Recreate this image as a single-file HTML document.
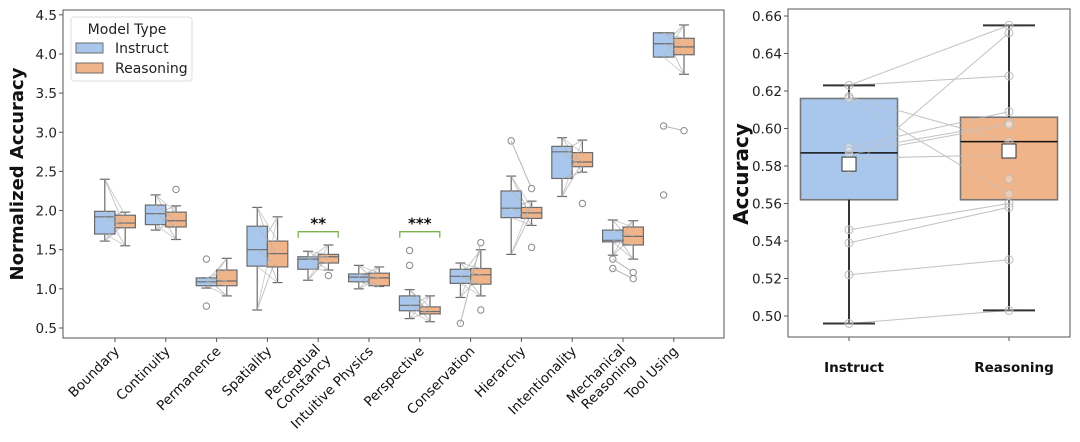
<!DOCTYPE html>
<html><head><meta charset="utf-8"><style>
body{margin:0;background:#fff;}
svg{display:block;font-family:"DejaVu Sans","Liberation Sans",sans-serif;}
</style></head><body>
<svg id="chart" width="1080" height="442" viewBox="0 0 1080 442" xmlns="http://www.w3.org/2000/svg">
  <g id="left"></g>
  <g id="right"></g>
</svg>
<script>
const categories=["Boundary","Continuity","Permanence","Spatiality","Perceptual\nConstancy","Intuitive Physics","Perspective","Conservation","Hierarchy","Intentionality","Mechanical\nReasoning","Tool Using"];
// [whiskerLow, q1, median, q3, whiskerHigh]
const instructStats=[[1.61,1.70,1.92,1.99,2.40],[1.75,1.82,1.96,2.07,2.20],[1.01,1.04,1.09,1.14,1.14],[0.73,1.29,1.50,1.80,2.04],[1.11,1.25,1.38,1.41,1.48],[1.00,1.09,1.15,1.19,1.30],[0.62,0.72,0.79,0.91,0.99],[0.89,1.07,1.16,1.25,1.33],[1.44,1.91,2.03,2.25,2.44],[2.18,2.41,2.75,2.82,2.93],[1.43,1.60,1.62,1.75,1.88],[3.96,3.96,4.13,4.27,4.27]];
const reasoningStats=[[1.55,1.78,1.84,1.94,1.98],[1.63,1.79,1.87,1.98,2.06],[0.91,1.04,1.10,1.24,1.39],[1.08,1.28,1.45,1.61,1.92],[1.24,1.33,1.41,1.44,1.56],[1.03,1.04,1.14,1.20,1.28],[0.58,0.68,0.71,0.77,0.91],[0.91,1.06,1.18,1.26,1.50],[1.81,1.90,1.97,2.04,2.12],[2.49,2.56,2.62,2.74,2.90],[1.38,1.56,1.67,1.79,1.87],[3.74,3.99,4.09,4.20,4.37]];
const instructOutliers=[[],[],[1.38,0.78],[],[],[],[1.49,1.30],[0.56],[2.89],[],[1.38,1.26],[3.08,2.20]];
const reasoningOutliers=[[],[2.27],[],[],[1.17],[],[],[1.59,0.73],[2.28,1.53],[2.09],[1.21,1.13],[3.02]];
const sigBrackets=[[4,"**",1.73],[6,"***",1.73]];
const yTicks=[0.5,1.0,1.5,2.0,2.5,3.0,3.5,4.0,4.5];

const rightCats=["Instruct","Reasoning"];
const rInstruct=[0.496,0.562,0.587,0.616,0.623];
const rReasoning=[0.503,0.562,0.593,0.606,0.655];
const rMeans=[0.581,0.588];
const rInstructPts=[0.623,0.617,0.616,0.590,0.588,0.586,0.578,0.546,0.539,0.522,0.496];
const rReasoningPts=[0.655,0.651,0.628,0.609,0.603,0.602,0.593,0.586,0.573,0.565,0.560,0.558,0.530,0.503];
const rPairsI=[0.623,0.623,0.617,0.616,0.590,0.588,0.586,0.584,0.578,0.546,0.539,0.522,0.496];
const rPairsR=[0.655,0.628,0.593,0.565,0.609,0.603,0.602,0.586,0.651,0.560,0.558,0.530,0.503];
const rTicks=[0.50,0.52,0.54,0.56,0.58,0.60,0.62,0.64,0.66];

const NS="http://www.w3.org/2000/svg";
function mk(parent,tag,attrs,text){const e=document.createElementNS(NS,tag);for(const k in attrs)e.setAttribute(k,attrs[k]);if(text!==undefined)e.textContent=text;parent.appendChild(e);return e;}
const BLUE="#a9c7ec",ORANGE="#f0b48a",EDGE="#6b6b6b",LINE="#b5b5b5";

// ---- left panel
const L=document.getElementById('left');
const X0=63,X1=724,Y0=10,Y1=338;
const ly=v=>328-(v-0.5)*78.3;
const lx=i=>115+i*50.8;
let e=mk(L,'rect',{x:X0,y:Y0,width:X1-X0,height:Y1-Y0,fill:'none',stroke:'#555','stroke-width':1});

yTicks.forEach(t=>{const y=ly(t);
  e=mk(L,'line',{x1:X0-4,x2:X0,y1:y,y2:y,stroke:'#555'});
  e=mk(L,'text',{x:X0-6,y:y+5,'text-anchor':'end','font-size':13.5,fill:'#222'},t.toFixed(1));});
e=mk(L,'text',{x:0,y:0,transform:'translate(23,174) rotate(-90)','text-anchor':'middle','font-size':18,'font-weight':'bold',fill:'#111'},'Normalized Accuracy');


function drawBox(g,cx,w,s,fill,capW,lw,edge){
  const y=v=>g.ys(v);
  mk(g.el,'line',{x1:cx,x2:cx,y1:y(s[0]),y2:y(s[1]),stroke:edge,'stroke-width':lw});
  mk(g.el,'line',{x1:cx,x2:cx,y1:y(s[3]),y2:y(s[4]),stroke:edge,'stroke-width':lw});
  mk(g.el,'line',{x1:cx-capW/2,x2:cx+capW/2,y1:y(s[0]),y2:y(s[0]),stroke:edge,'stroke-width':lw});
  mk(g.el,'line',{x1:cx-capW/2,x2:cx+capW/2,y1:y(s[4]),y2:y(s[4]),stroke:edge,'stroke-width':lw});
  const r=mk(g.el,'rect',{x:cx-w/2,y:y(s[3]),width:w,height:y(s[1])-y(s[3]),fill:fill,stroke:edge,'stroke-width':lw});
  mk(g.el,'line',{x1:cx-w/2,x2:cx+w/2,y1:y(s[2]),y2:y(s[2]),stroke:g.med||edge,'stroke-width':lw});
  return r;
}
categories.forEach((c,i)=>{
  const g=mk(L,'g',{});
  const xi=lx(i)-10.2,xr=lx(i)+10.2;
  for(let k=0;k<5;k++){mk(g,'line',{x1:xi,x2:xr,y1:ly(instructStats[i][k]),y2:ly(reasoningStats[i][(k+2)%5]),stroke:LINE,'stroke-width':1,opacity:0.8});}
  const b1=drawBox({el:g,ys:ly},xi,20.4,instructStats[i],BLUE,10,1.2,EDGE);
  
  const b2=drawBox({el:g,ys:ly},xr,20.4,reasoningStats[i],ORANGE,10,1.2,EDGE);
  
  for(let k=0;k<5;k++){mk(g,'line',{x1:xi,x2:xr,y1:ly(instructStats[i][(k+1)%5]),y2:ly(reasoningStats[i][k]),stroke:LINE,'stroke-width':0.9,opacity:0.7});}
  instructOutliers[i].forEach((v,k)=>{const o=mk(g,'circle',{cx:xi,cy:ly(v),r:3.2,fill:'#fff',stroke:'#888'});
    const p=reasoningOutliers[i][k];if(p!==undefined)mk(g,'line',{x1:xi,x2:xr,y1:ly(v),y2:ly(p),stroke:LINE});});
  reasoningOutliers[i].forEach(v=>{const o=mk(g,'circle',{cx:xr,cy:ly(v),r:3.2,fill:'#fff',stroke:'#888'});});
  e=mk(L,'line',{x1:lx(i),x2:lx(i),y1:Y1,y2:Y1+4,stroke:'#555'});
  const lines=c.split('\n');
  const t=mk(L,'text',{transform:`translate(${lx(i)+5},${Y1+14}) rotate(-45)`,'text-anchor':'end','font-size':13.5,fill:'#111'});
  
  lines.forEach((s,k)=>{mk(t,'tspan',{x:0,dy:k===0?(lines.length>1?-3:0):15},s);});
});
sigBrackets.forEach(([i,s,v])=>{const y=ly(v),a=lx(i)-20,b=lx(i)+20;
  e=mk(L,'path',{d:`M${a},${y+6}V${y}H${b}V${y+6}`,fill:'none',stroke:'#7cb24a','stroke-width':1.3});
  e=mk(L,'text',{x:lx(i),y:y-3,'text-anchor':'middle','font-size':15,'font-weight':'bold',fill:'#111'},s);});
const lg=mk(L,'g',{});
mk(lg,'rect',{x:71,y:17,width:121,height:64,rx:3,fill:'#fff',stroke:'#ddd'});
e=mk(lg,'text',{x:127,y:34,'text-anchor':'middle','font-size':14,fill:'#222'},'Model Type');
[["Instruct",BLUE,48],["Reasoning",ORANGE,68]].forEach(([n,c,y])=>{
  e=mk(lg,'rect',{x:76,y:y-5,width:27,height:10,fill:c,stroke:EDGE});
  e=mk(lg,'text',{x:115,y:y+5,'font-size':14,fill:'#222'},n);});

// ---- right panel
const R=document.getElementById('right');
const RX0=788,RX1=1070,RY0=9,RY1=337;
const ry=v=>316-(v-0.5)*1875;
const rx=i=>849+i*160;
e=mk(R,'rect',{x:RX0,y:RY0,width:RX1-RX0,height:RY1-RY0,fill:'none',stroke:'#555'});
rTicks.forEach(t=>{const y=ry(t);
  e=mk(R,'line',{x1:RX0-4,x2:RX0,y1:y,y2:y,stroke:'#555'});
  e=mk(R,'text',{x:RX0-6,y:y+5,'text-anchor':'end','font-size':13.5,fill:'#222'},t.toFixed(2));});
e=mk(R,'text',{transform:'translate(748,174) rotate(-90)','text-anchor':'middle','font-size':20,'font-weight':'bold',fill:'#111'},'Accuracy');

rPairsI.forEach((v,k)=>{mk(R,'line',{x1:rx(0),x2:rx(1),y1:ry(v),y2:ry(rPairsR[k]),stroke:'#c4c4c4','stroke-width':1});});
[[rInstruct,BLUE],[rReasoning,ORANGE]].forEach(([s,c],i)=>{
  const b=drawBox({el:R,ys:ry,med:'#111'},rx(i),97,s,c,26,1.6,'#777');
  
});
rPairsI.forEach((v,k)=>{mk(R,'line',{x1:rx(0),x2:rx(1),y1:ry(v),y2:ry(rPairsR[k]),stroke:'#c4c4c4','stroke-width':0.8,opacity:0.7});});
[rInstruct,rReasoning].forEach((s,i)=>{
  mk(R,'line',{x1:rx(i),x2:rx(i),y1:ry(s[0]),y2:ry(s[1]),stroke:'#333','stroke-width':2});
  mk(R,'line',{x1:rx(i),x2:rx(i),y1:ry(s[3]),y2:ry(s[4]),stroke:'#333','stroke-width':2});
  mk(R,'line',{x1:rx(i)-26,x2:rx(i)+26,y1:ry(s[0]),y2:ry(s[0]),stroke:'#333','stroke-width':2});
  mk(R,'line',{x1:rx(i)-26,x2:rx(i)+26,y1:ry(s[4]),y2:ry(s[4]),stroke:'#333','stroke-width':2});
});
[rInstructPts,rReasoningPts].forEach((pts,i)=>pts.forEach(v=>{
  const c=mk(R,'circle',{cx:rx(i),cy:ry(v),r:4,fill:'rgba(255,255,255,0.3)',stroke:'#bbb','stroke-width':1});
  }));
rMeans.forEach((m,i)=>{const s=mk(R,'rect',{x:rx(i)-7,y:ry(m)-7,width:14,height:14,fill:'#fff',stroke:'#333','stroke-width':1});
  });
rightCats.forEach((c,i)=>{
  e=mk(R,'line',{x1:rx(i),x2:rx(i),y1:RY1,y2:RY1+4,stroke:'#555'});
  e=mk(R,'text',{x:rx(i)+5,y:372,'text-anchor':'middle','font-size':13.5,'font-weight':'bold',fill:'#111'},c);});
</script>
</body></html>
